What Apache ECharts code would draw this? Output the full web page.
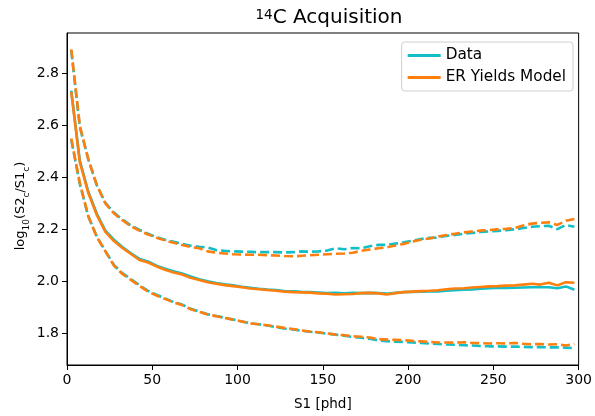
<!DOCTYPE html>
<html>
<head>
<meta charset="utf-8">
<script src="https://cdn.jsdelivr.net/npm/echarts@6/dist/echarts.min.js"></script>
<style>
html,body{margin:0;padding:0;background:#fff;}
#chart{width:595px;height:416px;}
</style>
</head>
<body>
<div id="chart"></div>
<script>
// S1 bin centres [phd]
var xs = [2.5,7.5,12.5,17.5,22.5,27.5,32.5,37.5,42.5,47.5,52.5,57.5,62.5,67.5,72.5,77.5,82.5,87.5,92.5,97.5,
  102.5,107.5,112.5,117.5,122.5,127.5,132.5,137.5,142.5,147.5,152.5,157.5,162.5,167.5,172.5,177.5,182.5,187.5,192.5,197.5,
  202.5,207.5,212.5,217.5,222.5,227.5,232.5,237.5,242.5,247.5,252.5,257.5,262.5,267.5,272.5,277.5,282.5,287.5,292.5,297.5];

var dataMean = [2.735,2.465,2.345,2.26,2.195,2.16,2.132,2.108,2.086,2.076,2.06,2.048,2.038,2.03,2.018,2.008,2.0,1.993,1.988,1.984,
  1.979,1.975,1.971,1.968,1.966,1.962,1.961,1.959,1.958,1.956,1.954,1.955,1.953,1.955,1.954,1.955,1.954,1.952,1.955,1.958,
  1.959,1.96,1.961,1.961,1.963,1.965,1.967,1.968,1.971,1.973,1.974,1.974,1.975,1.976,1.977,1.977,1.977,1.973,1.98,1.967];
var dataUpper = [2.89,2.595,2.47,2.37,2.302,2.265,2.238,2.215,2.198,2.183,2.17,2.16,2.152,2.144,2.137,2.133,2.13,2.12,2.117,2.115,
  2.114,2.113,2.112,2.112,2.112,2.111,2.112,2.115,2.114,2.115,2.118,2.127,2.123,2.128,2.127,2.135,2.14,2.14,2.145,2.15,
  2.156,2.163,2.167,2.168,2.175,2.178,2.183,2.186,2.19,2.192,2.194,2.197,2.2,2.205,2.21,2.212,2.214,2.201,2.217,2.21];
var dataLower = [2.545,2.375,2.25,2.172,2.117,2.063,2.031,2.008,1.985,1.963,1.948,1.934,1.92,1.91,1.894,1.883,1.873,1.866,1.859,1.852,
  1.845,1.838,1.834,1.829,1.823,1.818,1.814,1.809,1.805,1.802,1.798,1.794,1.79,1.785,1.782,1.778,1.772,1.769,1.767,1.766,
  1.764,1.762,1.76,1.758,1.756,1.755,1.753,1.752,1.75,1.749,1.749,1.748,1.748,1.747,1.746,1.746,1.745,1.745,1.744,1.742];

var modelMean = [2.73,2.46,2.34,2.255,2.19,2.155,2.128,2.105,2.082,2.072,2.057,2.044,2.034,2.026,2.013,2.005,1.996,1.99,1.985,1.981,
  1.977,1.972,1.969,1.966,1.963,1.96,1.958,1.957,1.956,1.953,1.952,1.949,1.95,1.951,1.954,1.955,1.953,1.949,1.954,1.958,
  1.96,1.962,1.963,1.965,1.969,1.972,1.973,1.976,1.978,1.98,1.981,1.983,1.984,1.987,1.99,1.987,1.994,1.984,1.996,1.994];
var modelUpper = [2.894,2.6,2.47,2.37,2.3,2.262,2.235,2.212,2.195,2.18,2.168,2.157,2.148,2.14,2.132,2.127,2.115,2.11,2.107,2.104,
  2.103,2.102,2.102,2.1,2.099,2.097,2.096,2.098,2.1,2.102,2.104,2.106,2.107,2.11,2.117,2.122,2.127,2.13,2.138,2.144,
  2.153,2.16,2.165,2.172,2.178,2.183,2.188,2.192,2.195,2.197,2.2,2.202,2.205,2.215,2.222,2.225,2.227,2.217,2.233,2.24];
var modelLower = [2.55,2.38,2.25,2.17,2.115,2.06,2.028,2.005,1.982,1.96,1.945,1.932,1.918,1.908,1.892,1.882,1.872,1.865,1.858,1.852,
  1.845,1.837,1.834,1.83,1.825,1.82,1.816,1.81,1.806,1.803,1.799,1.794,1.792,1.788,1.786,1.783,1.777,1.775,1.774,1.773,
  1.77,1.768,1.766,1.764,1.764,1.763,1.765,1.762,1.761,1.76,1.761,1.76,1.762,1.759,1.757,1.758,1.756,1.757,1.752,1.758];

var xTicks = [0,50,100,150,200,250,300];
var yTicks = [1.8,2.0,2.2,2.4,2.6,2.8];

var CYAN = '#12bfc6';
var ORANGE = '#ff7f0e';
var FONT = 'DejaVu Sans';

function zip(ys){ return xs.map(function(x,i){ return [x, ys[i]]; }); }
function mk(name, ys, color, dashed){
  return {
    name: name, type: 'line', data: zip(ys), symbol: 'none', silent: true,
    lineStyle: { color: color, width: 2.6, type: dashed ? [9,4] : 'solid' },
    itemStyle: { color: color }
  };
}

var chart = echarts.init(document.getElementById('chart'), null, {renderer:'canvas'});
chart.setOption({
  animation: false,
  backgroundColor: '#fff',
  title: {
    text: '{sup|14}{t|C Acquisition}',
    left: 324, top: 3, textAlign: 'center',
    textStyle: {
      fontWeight: 'normal',
      rich: {
        sup: { fontFamily: FONT, fontSize: 13.5, fontWeight: 'normal', color: '#000', verticalAlign: 'top' },
        t: { fontFamily: FONT, fontSize: 20, fontWeight: 'normal', color: '#000' }
      }
    }
  },
  legend: {
    data: ['Data', 'ER Yields Model'],
    orient: 'vertical',
    right: 22, top: 42,
    padding: [6, 7, 6, 6],
    itemGap: 7,
    itemWidth: 33, itemHeight: 3,
    icon: 'rect',
    itemTextGap: 11,
    borderColor: '#d0d0d0', borderWidth: 1, borderRadius: 3,
    backgroundColor: '#fff',
    textStyle: { fontFamily: FONT, fontSize: 15.3, color: '#000' }
  },
  grid: { left: 67, right: 14, top: 33, bottom: 48, show: true, borderColor: '#000', borderWidth: 1, backgroundColor: 'transparent' },
  xAxis: {
    type: 'value', min: 0, max: 300, interval: 50,
    name: 'S1 [phd]', nameLocation: 'middle', nameGap: 32, nameMoveOverlap: false,
    nameTextStyle: { fontFamily: FONT, fontSize: 13.5, color: '#000' },
    axisLine: { show: true, lineStyle: { color: '#000', width: 1 } },
    axisTick: { show: true, inside: false, length: 5, lineStyle: { color: '#000' } },
    axisLabel: { fontFamily: FONT, fontSize: 14, color: '#000', margin: 8 },
    splitLine: { show: false }
  },
  yAxis: {
    type: 'value', min: 1.677, max: 2.957,
    name: 'log{sub|10}(S2{sub|c}/S1{sub|c})', nameLocation: 'middle', nameGap: 36, nameRotate: 90,
    nameMoveOverlap: false,
    nameTextStyle: {
      fontFamily: FONT, fontSize: 13, color: '#000',
      padding: [0, 14, 0, 0],
      rich: {
        sub: { fontFamily: FONT, fontSize: 9, color: '#000', verticalAlign: 'bottom', lineHeight: 20 }
      }
    },
    axisLine: { show: true, lineStyle: { color: '#000', width: 1 } },
    axisTick: { show: true, inside: false, length: 5, customValues: yTicks, lineStyle: { color: '#000' } },
    axisLabel: { fontFamily: FONT, fontSize: 14, color: '#000', margin: 8, customValues: yTicks,
      formatter: function(v){ return v.toFixed(1); } },
    splitLine: { show: false }
  },
  series: [
    mk('Data', dataMean, CYAN, false),
    mk('Data upper', dataUpper, CYAN, true),
    mk('Data lower', dataLower, CYAN, true),
    mk('ER Yields Model', modelMean, ORANGE, false),
    mk('Model upper', modelUpper, ORANGE, true),
    mk('Model lower', modelLower, ORANGE, true)
  ]
});
</script>
</body>
</html>
